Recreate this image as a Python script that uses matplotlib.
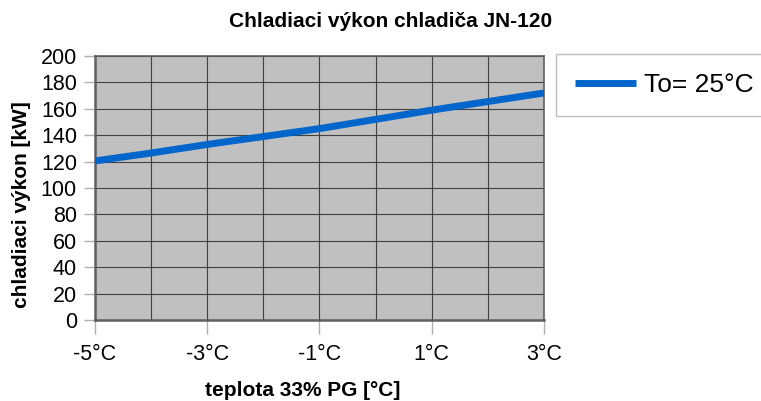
import numpy as np
import matplotlib
matplotlib.use("Agg")
import matplotlib.pyplot as plt

plt.rcParams["font.family"] = ["Liberation Sans", "DejaVu Sans"]

# Data
teplota = [-5, -4, -3, -2, -1, 0, 1, 2, 3]
vykon = [120.5, 126.5, 133, 139, 145, 152, 159, 165.5, 172]
x_ticks = [-5, -3, -1, 1, 3]
x_tick_labels = ["-5°C", "-3°C", "-1°C", "1°C", "3°C"]
y_ticks = list(range(0, 201, 20))
series_label = "To= 25°C"

fig = plt.figure(figsize=(7.61, 4.01), dpi=100)
ax = fig.add_axes([0.1248, 0.202, 0.59, 0.6583])
ax.set_facecolor("#c0c0c0")

ax.plot(teplota, vykon, color="#0066cc", linewidth=5, label=series_label,
        solid_capstyle="butt", zorder=3)

ax.set_xlim(-5, 3)
ax.set_ylim(0, 200)
ax.set_xticks(x_ticks)
ax.set_xticklabels(x_tick_labels)
ax.set_xticks(np.arange(-5, 4, 1), minor=True)
ax.set_yticks(y_ticks)

ax.grid(True, which="both", axis="x", color="#404040", linewidth=0.8)
ax.grid(True, which="major", axis="y", color="#404040", linewidth=0.8)
ax.set_axisbelow(True)

ax.tick_params(axis="x", which="major", length=10, width=1, color="#b0b0b0",
               pad=7, labelsize=15.5)
ax.tick_params(axis="x", which="minor", length=0)
ax.tick_params(axis="y", length=8, width=1, color="#b0b0b0", pad=5, labelsize=15.5)

for side in ["left", "bottom", "right", "top"]:
    ax.spines[side].set_color("#606060")
ax.spines["left"].set_linewidth(1.8)
ax.spines["bottom"].set_linewidth(1.8)
ax.spines["right"].set_linewidth(1.2)
ax.spines["top"].set_linewidth(1.2)

ax.set_xlabel("teplota 33% PG [°C]", fontsize=15, fontweight="bold", labelpad=12)
ax.xaxis.label.set_x(0.463)
ax.set_ylabel("chladiaci výkon [kW]", fontsize=15, fontweight="bold", labelpad=7)
ax.yaxis.label.set_y(0.436)
fig.suptitle("Chladiaci výkon chladiča JN-120", x=0.513, y=0.97,
             fontsize=15, fontweight="bold")

leg = ax.legend(loc="upper left", bbox_to_anchor=(0.7306, 0.8653),
                bbox_transform=fig.transFigure, fontsize=19, frameon=True,
                fancybox=False, borderpad=0.72, handlelength=2.3,
                handletextpad=0.3, borderaxespad=0)
leg.get_frame().set_edgecolor("#b0b0b0")
leg.get_frame().set_linewidth(1.0)

fig.savefig("out.png", dpi=100)
